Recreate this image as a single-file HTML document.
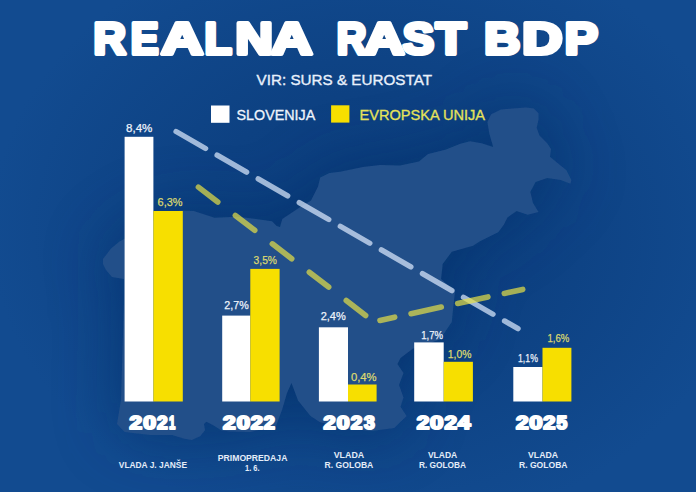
<!DOCTYPE html>
<html><head><meta charset="utf-8">
<style>
html,body{margin:0;padding:0;background:#10488a;}
body{width:696px;height:492px;overflow:hidden;position:relative;}
svg{position:absolute;left:0;top:0;display:block;}
text{font-family:"Liberation Sans",sans-serif;}
</style></head><body>
<svg width="696" height="492" viewBox="0 0 696 492">
<defs>
<radialGradient id="bg" gradientUnits="userSpaceOnUse" cx="370" cy="230" r="380" gradientTransform="translate(370 230) scale(1 0.8) translate(-370 -230)">
<stop offset="0" stop-color="#0b3c7c"/>
<stop offset="0.45" stop-color="#0d4182"/>
<stop offset="1" stop-color="#124b90"/>
</radialGradient>
<filter id="halo" x="-40%" y="-40%" width="180%" height="180%"><feGaussianBlur stdDeviation="32"/></filter>
<filter id="blur" x="-5%" y="-5%" width="110%" height="110%"><feGaussianBlur stdDeviation="0.7"/></filter>
</defs>
<rect width="696" height="492" fill="url(#bg)"/>
<path fill="#062e66" opacity="0.6" filter="url(#halo)" d="M103,259 L111,248.4 L119.5,241.5 L126,238 L150,222 L180,210.6 L193.8,211 L214.5,217.8 L237.5,216.7 L255.9,219 L272,221.3 L276.6,225.9 L280,227 L282.3,219 L299.5,207.5 L311,200.6 L318,186.8 L320.2,177.6 L329.4,173 L340,171.8 L363,167 L380,165 L400,165.6 L419,161.6 L428,154 L446,149.5 L461,143.4 L470,141.3 L481.6,143.3 L493.2,147.1 L489.3,133.6 L487.4,122 L491.2,114.3 L500.9,109.5 L512.5,108.5 L526,107.5 L533.7,108.5 L538.5,113.3 L538.5,120 L536.6,127.8 L539.5,135.5 L547.2,143.3 L551,149 L550,156.8 L556.9,162.6 L566.5,170.3 L571.4,180 L570.4,183.8 L560.7,180 L547.2,178 L535.6,181.9 L530.3,192 L533,202.9 L538.5,212 L527.5,214.8 L516.6,211 L507.4,217.5 L503.8,224.8 L498.3,232.2 L480,241.3 L473,245.7 L451.8,251.8 L442.7,264 L441,279 L455,291.5 L453,309.8 L451.8,322 L446,330.5 L440,339.6 L412.7,348.8 L400.5,358 L397.4,364 L403.5,373 L399,385 L403.5,397.6 L400.5,406.7 L406.6,415.9 L394.4,428 L371.5,431 L341,428 L319.6,422 L310.5,415.9 L298,400.6 L291.5,383 L287,393 L282,410 L276,426 L250,432 L230,431.5 L221,430.2 L213.7,425.4 L206.3,421.7 L204,424 L205,430.2 L200.2,436.3 L191.7,440 L184.4,438.8 L172,435 L150.5,435 L124.6,432 L117,424 L121,400 L124,300 L124,279 L112,277 L106,270 L103,264 Z"/>
<path fill="#224f89" filter="url(#blur)" d="M103,259 L111,248.4 L119.5,241.5 L126,238 L150,222 L180,210.6 L193.8,211 L214.5,217.8 L237.5,216.7 L255.9,219 L272,221.3 L276.6,225.9 L280,227 L282.3,219 L299.5,207.5 L311,200.6 L318,186.8 L320.2,177.6 L329.4,173 L340,171.8 L363,167 L380,165 L400,165.6 L419,161.6 L428,154 L446,149.5 L461,143.4 L470,141.3 L481.6,143.3 L493.2,147.1 L489.3,133.6 L487.4,122 L491.2,114.3 L500.9,109.5 L512.5,108.5 L526,107.5 L533.7,108.5 L538.5,113.3 L538.5,120 L536.6,127.8 L539.5,135.5 L547.2,143.3 L551,149 L550,156.8 L556.9,162.6 L566.5,170.3 L571.4,180 L570.4,183.8 L560.7,180 L547.2,178 L535.6,181.9 L530.3,192 L533,202.9 L538.5,212 L527.5,214.8 L516.6,211 L507.4,217.5 L503.8,224.8 L498.3,232.2 L480,241.3 L473,245.7 L451.8,251.8 L442.7,264 L441,279 L455,291.5 L453,309.8 L451.8,322 L446,330.5 L440,339.6 L412.7,348.8 L400.5,358 L397.4,364 L403.5,373 L399,385 L403.5,397.6 L400.5,406.7 L406.6,415.9 L394.4,428 L371.5,431 L341,428 L319.6,422 L310.5,415.9 L298,400.6 L291.5,383 L287,393 L282,410 L276,426 L250,432 L230,431.5 L221,430.2 L213.7,425.4 L206.3,421.7 L204,424 L205,430.2 L200.2,436.3 L191.7,440 L184.4,438.8 L172,435 L150.5,435 L124.6,432 L117,424 L121,400 L124,300 L124,279 L112,277 L106,270 L103,264 Z"/>
<!-- dashed lines -->
<path d="M176.1,131.5 L518,328.7" stroke="#e0ecff" stroke-opacity="0.7" stroke-width="5.4" stroke-linecap="round" fill="none" stroke-dasharray="34 13.4"/>
<path d="M198.4,187.1 L373.8,321.7" stroke="#e6e046" stroke-opacity="0.7" stroke-width="5.6" stroke-linecap="round" fill="none" stroke-dasharray="24.4 22.2"/>
<path d="M380,320.4 L522.7,289.4" stroke="#e6e046" stroke-opacity="0.7" stroke-width="5.6" stroke-linecap="round" fill="none" stroke-dasharray="30.9 16.8" stroke-dashoffset="15.9"/>
<!-- bars -->
<g fill="#ffffff">
<rect x="124.6" y="136.8" width="28.8" height="264.7"/>
<rect x="222.2" y="315.6" width="28.1" height="85.9"/>
<rect x="318.9" y="327.3" width="29.1" height="74.2"/>
<rect x="414.2" y="342.4" width="29.5" height="59.1"/>
<rect x="513.3" y="367" width="29.2" height="34.5"/>
</g>
<g fill="#f7df00">
<rect x="153.4" y="211" width="29.4" height="190.5"/>
<rect x="250.3" y="268.9" width="29.3" height="132.6"/>
<rect x="348" y="384.5" width="28.6" height="17"/>
<rect x="443.7" y="361.8" width="29.2" height="39.7"/>
<rect x="542.5" y="347.8" width="28.9" height="53.7"/>
</g>
<!-- legend -->
<rect x="211" y="105.5" width="18.5" height="17.3" fill="#ffffff"/>
<rect x="331.1" y="105.3" width="18.3" height="17.3" fill="#f7df00"/>
<!-- title -->
<g font-size="45.20" font-weight="bold" fill="#ffffff" stroke="#ffffff" stroke-width="4.20" stroke-linejoin="round">
<text x="93.40" y="54.10" textLength="32.42" lengthAdjust="spacingAndGlyphs">R</text>
<text x="130.71" y="54.10" textLength="27.82" lengthAdjust="spacingAndGlyphs">E</text>
<text x="161.36" y="54.10" textLength="41.87" lengthAdjust="spacingAndGlyphs">A</text>
<text x="204.41" y="54.10" textLength="27.26" lengthAdjust="spacingAndGlyphs">L</text>
<text x="235.64" y="54.10" textLength="37.34" lengthAdjust="spacingAndGlyphs">N</text>
<text x="271.29" y="54.10" textLength="41.01" lengthAdjust="spacingAndGlyphs">A</text>
<text x="336.66" y="54.10" textLength="29.58" lengthAdjust="spacingAndGlyphs">R</text>
<text x="364.01" y="54.10" textLength="40.37" lengthAdjust="spacingAndGlyphs">A</text>
<text x="402.65" y="54.10" textLength="31.28" lengthAdjust="spacingAndGlyphs">S</text>
<text x="435.75" y="54.10" textLength="30.19" lengthAdjust="spacingAndGlyphs">T</text>
<text x="484.37" y="54.10" textLength="36.00" lengthAdjust="spacingAndGlyphs">B</text>
<text x="522.28" y="54.10" textLength="40.15" lengthAdjust="spacingAndGlyphs">D</text>
<text x="564.68" y="54.10" textLength="33.12" lengthAdjust="spacingAndGlyphs">P</text>
</g>
<text x="256.6" y="85.3" font-size="14.6" fill="#e8f0fb" stroke="#e8f0fb" stroke-width="0.35" textLength="175.4" lengthAdjust="spacingAndGlyphs">VIR: SURS &amp; EUROSTAT</text>
<text x="236.6" y="119.7" font-size="14.1" fill="#eef4fc" stroke="#eef4fc" stroke-width="0.3" textLength="78.6" lengthAdjust="spacingAndGlyphs">SLOVENIJA</text>
<text x="359.6" y="119.6" font-size="14.1" fill="#e6e25a" stroke="#e6e25a" stroke-width="0.3" textLength="125.4" lengthAdjust="spacingAndGlyphs">EVROPSKA UNIJA</text>
<!-- value labels -->
<g font-size="11.5" fill="#eef3fb" stroke="#eef3fb" stroke-width="0.25">
<text x="126" y="132.3" textLength="26.4" lengthAdjust="spacingAndGlyphs">8,4%</text>
<text x="224.3" y="309.1" textLength="24.4" lengthAdjust="spacingAndGlyphs">2,7%</text>
<text x="320.7" y="320.1" textLength="25.1" lengthAdjust="spacingAndGlyphs">2,4%</text>
<text x="421.3" y="339.1" textLength="21.8" lengthAdjust="spacingAndGlyphs">1,7%</text>
<text x="518" y="361.7" textLength="19.9" lengthAdjust="spacingAndGlyphs">1,1%</text>
</g>
<g font-size="11.5" fill="#dcd970" stroke="#dcd970" stroke-width="0.25">
<text x="157.6" y="205.6" textLength="25" lengthAdjust="spacingAndGlyphs">6,3%</text>
<text x="253.6" y="263.6" textLength="23.4" lengthAdjust="spacingAndGlyphs">3,5%</text>
<text x="350.9" y="380.9" textLength="25.7" lengthAdjust="spacingAndGlyphs">0,4%</text>
<text x="447.8" y="358.2" textLength="23.7" lengthAdjust="spacingAndGlyphs">1,0%</text>
<text x="547.4" y="342" textLength="21.9" lengthAdjust="spacingAndGlyphs">1,6%</text>
</g>
<!-- years -->
<g font-size="17.80" font-weight="bold" fill="#ffffff" stroke="#ffffff" stroke-width="2.00" stroke-linejoin="round">
<text x="129.62" y="429.00" textLength="12.59" lengthAdjust="spacingAndGlyphs">2</text>
<text x="143.19" y="429.00" textLength="12.75" lengthAdjust="spacingAndGlyphs">0</text>
<text x="157.14" y="429.00" textLength="10.63" lengthAdjust="spacingAndGlyphs">2</text>
<text x="169.08" y="429.00" textLength="6.33" lengthAdjust="spacingAndGlyphs">1</text>
<text x="223.12" y="429.00" textLength="12.59" lengthAdjust="spacingAndGlyphs">2</text>
<text x="236.76" y="429.00" textLength="13.21" lengthAdjust="spacingAndGlyphs">0</text>
<text x="250.74" y="429.00" textLength="12.13" lengthAdjust="spacingAndGlyphs">2</text>
<text x="263.71" y="429.00" textLength="11.09" lengthAdjust="spacingAndGlyphs">2</text>
<text x="323.54" y="429.00" textLength="12.13" lengthAdjust="spacingAndGlyphs">2</text>
<text x="336.79" y="429.00" textLength="12.75" lengthAdjust="spacingAndGlyphs">0</text>
<text x="350.78" y="429.00" textLength="11.55" lengthAdjust="spacingAndGlyphs">2</text>
<text x="363.96" y="429.00" textLength="10.74" lengthAdjust="spacingAndGlyphs">3</text>
<text x="416.82" y="429.00" textLength="12.59" lengthAdjust="spacingAndGlyphs">2</text>
<text x="429.95" y="429.00" textLength="13.33" lengthAdjust="spacingAndGlyphs">0</text>
<text x="444.42" y="429.00" textLength="12.48" lengthAdjust="spacingAndGlyphs">2</text>
<text x="457.65" y="429.00" textLength="12.77" lengthAdjust="spacingAndGlyphs">4</text>
<text x="516.12" y="429.00" textLength="12.59" lengthAdjust="spacingAndGlyphs">2</text>
<text x="529.36" y="429.00" textLength="13.21" lengthAdjust="spacingAndGlyphs">0</text>
<text x="543.24" y="429.00" textLength="12.13" lengthAdjust="spacingAndGlyphs">2</text>
<text x="556.41" y="429.00" textLength="10.62" lengthAdjust="spacingAndGlyphs">5</text>
</g>
<!-- bottom labels -->
<g font-size="8.6" font-weight="bold" fill="#e4edf9">
<text x="118.8" y="468" textLength="68.2" lengthAdjust="spacingAndGlyphs">VLADA J. JANŠE</text>
<text x="217.8" y="460.7" textLength="69.6" lengthAdjust="spacingAndGlyphs">PRIMOPREDAJA</text>
<text x="245" y="470.6" textLength="14.5" lengthAdjust="spacingAndGlyphs">1. 6.</text>
<text x="333.7" y="458.1" textLength="30.5" lengthAdjust="spacingAndGlyphs">VLADA</text>
<text x="324.6" y="467.9" textLength="48.7" lengthAdjust="spacingAndGlyphs">R. GOLOBA</text>
<text x="427.9" y="458.1" textLength="29.4" lengthAdjust="spacingAndGlyphs">VLADA</text>
<text x="418.9" y="467.9" textLength="47.2" lengthAdjust="spacingAndGlyphs">R. GOLOBA</text>
<text x="528" y="458.1" textLength="30" lengthAdjust="spacingAndGlyphs">VLADA</text>
<text x="519" y="467.9" textLength="48.5" lengthAdjust="spacingAndGlyphs">R. GOLOBA</text>
</g>
</svg>
</body></html>
